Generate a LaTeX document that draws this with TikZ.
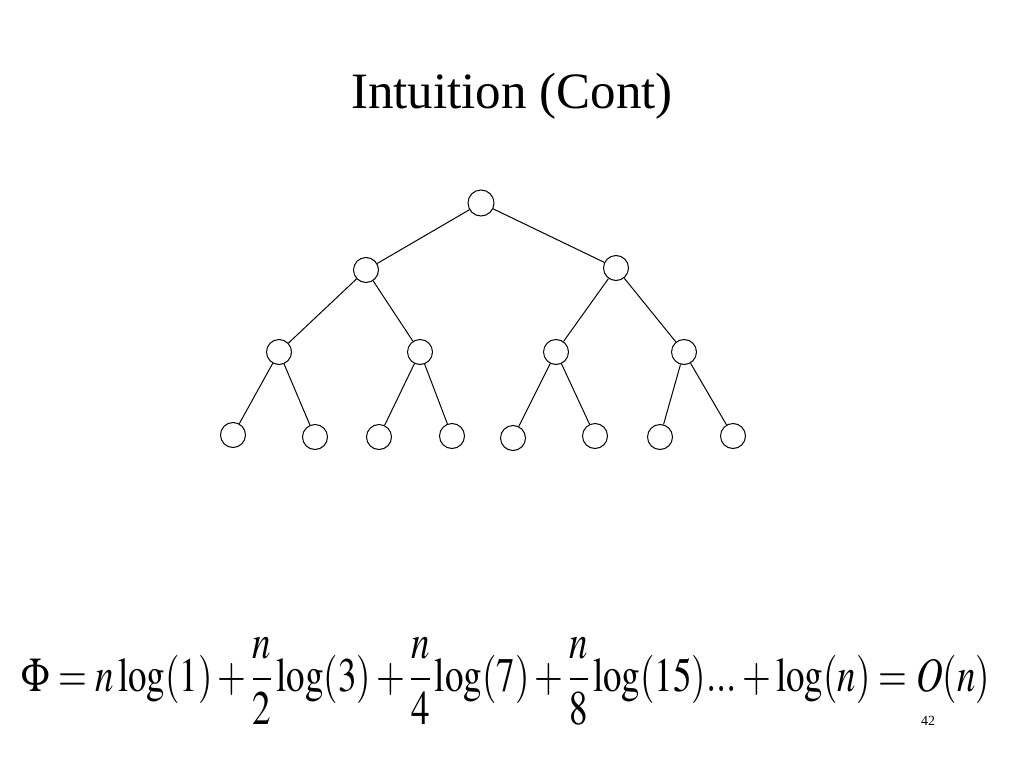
\documentclass[tikz,border=0pt]{standalone}
\usepackage{graphicx}
\usepackage{mathptmx}
\usepackage{fontspec}
\setmainfont{Liberation Serif}
\begin{document}
\begin{tikzpicture}[x=1pt,y=-1pt,
    vertex/.style={draw,circle,line width=1pt,minimum size=25pt,inner sep=0pt},
    edge/.style={line width=1pt}]
    \useasboundingbox (0,0) rectangle (1024,768);
    \node (title) at (512,96) {\fontsize{51}{55}\selectfont Intuition (Cont)}; % title
    \node[vertex, minimum size=26pt] (r) at (481,203) {}; % root
    \node[vertex] (a) at (366,270) {};
    \node[vertex] (b) at (616,268) {};
    \node[vertex] (aa) at (279,352) {};
    \node[vertex] (ab) at (420,352) {};
    \node[vertex] (ba) at (556,352) {};
    \node[vertex] (bb) at (684,352) {};
    \node[vertex] (aaa) at (233,435) {}; % leaves
    \node[vertex] (aab) at (315,437) {};
    \node[vertex] (aba) at (379,437) {};
    \node[vertex] (abb) at (452,436) {};
    \node[vertex] (baa) at (513,438) {};
    \node[vertex] (bab) at (595,436) {};
    \node[vertex] (bba) at (660,437) {};
    \node[vertex] (bbb) at (733,436) {};
    \draw[edge] (r) -- (a); \draw[edge] (r) -- (b);
    \draw[edge] (a) -- (aa); \draw[edge] (a) -- (ab);
    \draw[edge] (b) -- (ba); \draw[edge] (b) -- (bb);
    \draw[edge] (aa) -- (aaa); \draw[edge] (aa) -- (aab);
    \draw[edge] (ab) -- (aba); \draw[edge] (ab) -- (abb);
    \draw[edge] (ba) -- (baa); \draw[edge] (ba) -- (bab);
    \draw[edge] (bb) -- (bba); \draw[edge] (bb) -- (bbb);
    \node[anchor=base] (phi) at (506,691) {\scalebox{1}[1.3]{\resizebox{968pt}{!}{\fontsize{44}{48}\selectfont
      $\displaystyle\Phi = n\log(1) + \frac{n}{2}\log(3) + \frac{n}{4}\log(7) + \frac{n}{8}\log(15)... + \log(n) = O(n)$}}}; % potential
    \node (page) at (928,721) {\fontsize{14}{16}\selectfont 42}; % page number
\end{tikzpicture}
\end{document}
